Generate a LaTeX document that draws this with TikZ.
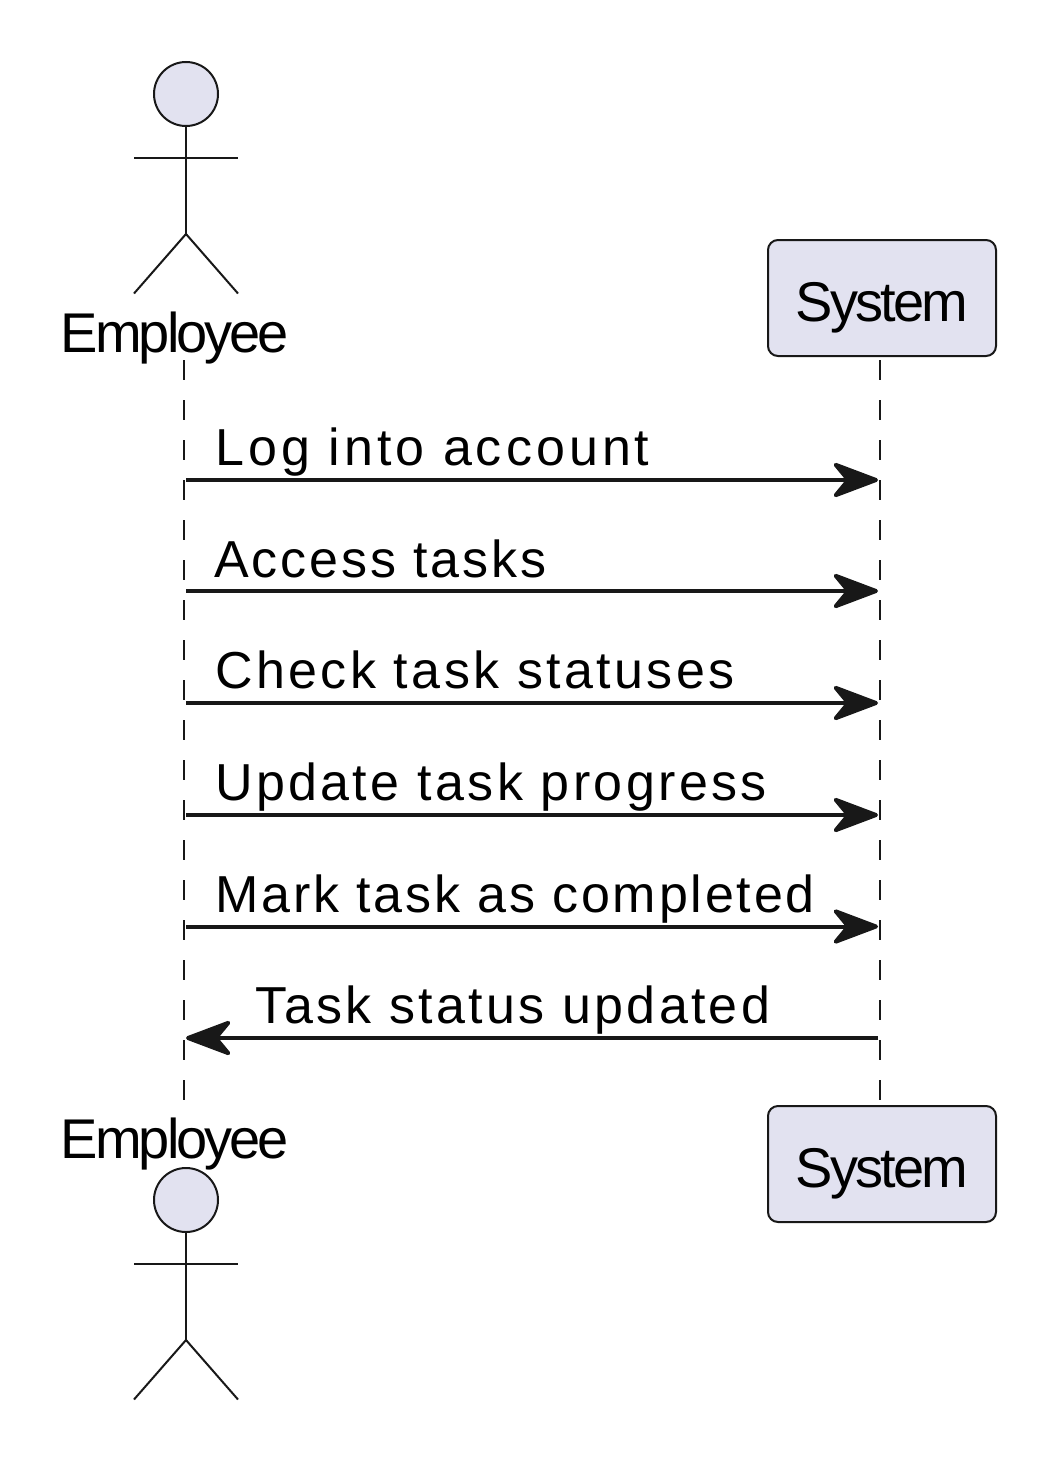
\documentclass[tikz,border=0pt]{standalone}
\usepackage{fontspec}
\setmainfont{Liberation Sans}
\newfontfamily\partfont[LetterSpace=-5.3]{Liberation Sans}
\newfontfamily\sysfont[LetterSpace=-4.9]{Liberation Sans}
\newfontfamily\msgfont{Liberation Sans}
\usetikzlibrary{arrows.meta,shapes.geometric}
\definecolor{ink}{HTML}{181818}
\definecolor{partfill}{HTML}{E2E2F0}
\tikzset{
  x=1pt,y=-1pt,
  partbox/.style={draw=ink,fill=partfill,line width=2pt,rounded corners=10pt,minimum width=228pt,minimum height=116pt,inner sep=0pt,outer sep=0pt,anchor=north west},
  parttext/.style={font=\fontsize{56}{56}\selectfont\partfont,text=black,inner sep=0pt,anchor=base},
  systext/.style={font=\fontsize{56}{56}\selectfont\sysfont,text=black,inner sep=0pt,anchor=base},
  msgtext/.style={font=\fontsize{52}{52}\selectfont\msgfont,text=black,inner sep=0pt,anchor=base west},
  actorhead/.style={draw=ink,fill=partfill,line width=2pt,circle,minimum size=64pt,inner sep=0pt},
  actorline/.style={draw=ink,line width=2pt},
  lifeline/.style={draw=ink,line width=2pt,dash pattern=on 20pt off 20pt},
  msgline/.style={draw=ink,line width=4pt,-{Stealth[length=52pt,width=39pt,inset=16pt,round]}},
}
\begin{document}
\begin{tikzpicture}
\useasboundingbox (0,0) rectangle (1060,1464);
% lifelines
\coordinate (e1) at (184,360); \coordinate (e2) at (184,1100);
\coordinate (s1) at (880,360); \coordinate (s2) at (880,1100);
\draw[lifeline] (e1) -- (e2);
\draw[lifeline] (s1) -- (s2);
% top actor
\node[actorhead] (headT) at (186,94) {};
\coordinate (hipT) at (186,234);
\coordinate (armLT) at (134,157.5); \coordinate (armRT) at (238,157.5);
\coordinate (legLT) at (134,293.5); \coordinate (legRT) at (238,293.5);
\draw[actorline] (headT.south) -- (hipT);
\draw[actorline] (armLT) -- (armRT);
\draw[actorline] (legLT) -- (hipT) -- (legRT);
\node[parttext] (empT) at (175,352.5) {Employee};
% bottom actor
\node[actorhead] (headB) at (186,1200) {};
\coordinate (hipB) at (186,1340);
\coordinate (armLB) at (134,1263.5); \coordinate (armRB) at (238,1263.5);
\coordinate (legLB) at (134,1399.5); \coordinate (legRB) at (238,1399.5);
\draw[actorline] (headB.south) -- (hipB);
\draw[actorline] (armLB) -- (armRB);
\draw[actorline] (legLB) -- (hipB) -- (legRB);
\node[parttext] (empB) at (175,1158.5) {Employee};
% system boxes
\node[partbox] (sysT) at (768,240) {};
\node[systext] at (882,321) (sysTt) {System};
\node[partbox] (sysB) at (768,1106) {};
\node[systext] at (882,1187) (sysBt) {System};
% messages
\coordinate (a1) at (186,480); \coordinate (b1) at (878,480);
\coordinate (a2) at (186,591); \coordinate (b2) at (878,591);
\coordinate (a3) at (186,703); \coordinate (b3) at (878,703);
\coordinate (a4) at (186,815); \coordinate (b4) at (878,815);
\coordinate (a5) at (186,926.5); \coordinate (b5) at (878,926.5);
\coordinate (a6) at (186,1038); \coordinate (b6) at (878,1038);
\draw[msgline] (a1) -- (b1);
\draw[msgline] (a2) -- (b2);
\draw[msgline] (a3) -- (b3);
\draw[msgline] (a4) -- (b4);
\draw[msgline] (a5) -- (b5);
\draw[msgline] (b6) -- (a6);
\node[msgtext] (m1) at (215,465) {\addfontfeature{LetterSpace=7.8}Log into account};
\node[msgtext] (m2) at (214,577) {\addfontfeature{LetterSpace=5.5}Access tasks};
\node[msgtext] (m3) at (215,688) {\addfontfeature{LetterSpace=6.5}Check task statuses};
\node[msgtext] (m4) at (215,800) {\addfontfeature{LetterSpace=6.5}Update task progress};
\node[msgtext] (m5) at (215,912) {\addfontfeature{LetterSpace=5.4}Mark task as completed};
\node[msgtext] (m6) at (255,1023) {\addfontfeature{LetterSpace=6.3}Task status updated};
\end{tikzpicture}
\end{document}
